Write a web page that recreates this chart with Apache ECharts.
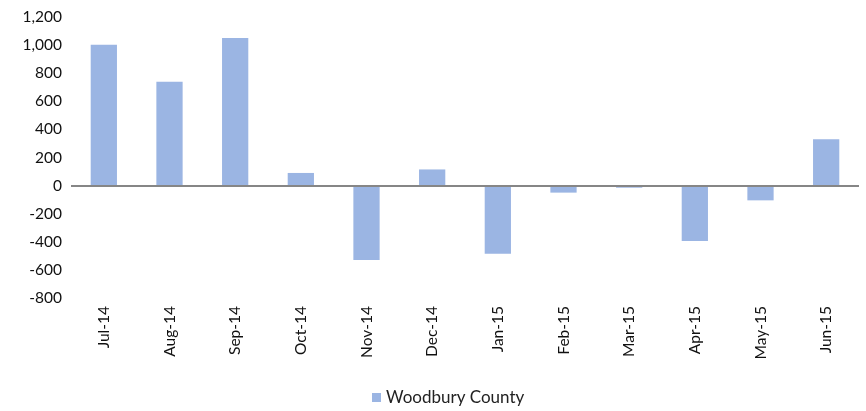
<!DOCTYPE html>
<html>
<head>
<meta charset="utf-8">
<script src="https://cdn.jsdelivr.net/npm/echarts@6/dist/echarts.min.js"></script>
<style>
  html, body { margin: 0; padding: 0; background: #fff; }
  #chart { width: 866px; height: 411px; }
</style>
</head>
<body>
<div id="chart"></div>
<script>
const months = ['Jul-14', 'Aug-14', 'Sep-14', 'Oct-14', 'Nov-14', 'Dec-14',
                'Jan-15', 'Feb-15', 'Mar-15', 'Apr-15', 'May-15', 'Jun-15'];
const woodbury = [1003, 740, 1050, 90, -530, 115, -485, -50, -15, -395, -105, 330];
const seriesName = 'Woodbury County';

const chart = echarts.init(document.getElementById('chart'));
const font = 'Lato, "Open Sans", sans-serif';

chart.setOption({
    animation: false,
    grid: { left: 71, right: 7, top: 17, bottom: 113 },
    legend: {
        top: 384,
        left: 367,
        itemWidth: 9,
        itemHeight: 9,
        icon: 'rect',
        itemGap: 6,
        textStyle: { fontFamily: font, fontSize: 17, color: '#222' },
        data: [seriesName],
    },
    xAxis: {
        type: 'category',
        data: months,
        axisLine: { show: false, onZero: false },
        axisTick: { show: false },
        axisLabel: {
            rotate: 90,
            margin: 8,
            fontFamily: font,
            fontSize: 15.5,
            color: '#111',
        },
    },
    yAxis: {
        type: 'value',
        min: -800,
        max: 1200,
        interval: 200,
        axisLine: { show: false },
        axisTick: { show: false },
        splitLine: { show: false },
        axisLabel: {
            margin: 9,
            fontFamily: font,
            fontSize: 15.5,
            color: '#111',
            formatter: (v) => v.toLocaleString('en-US'),
        },
    },
    series: [{
        name: seriesName,
        type: 'bar',
        data: woodbury,
        barWidth: '40%',
        itemStyle: { color: '#9BB5E3' },
        markLine: {
            silent: true,
            symbol: 'none',
            label: { show: false },
            lineStyle: { color: '#868686', width: 2, type: 'solid' },
            data: [{ yAxis: 0 }],
        },
    }],
});
</script>
</body>
</html>
